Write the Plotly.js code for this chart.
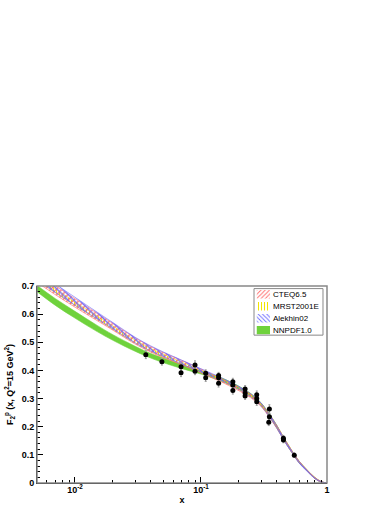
<!DOCTYPE html>
<html>
<head>
<meta charset="utf-8">
<script src="https://cdn.plot.ly/plotly-3.0.1.min.js"></script>
<style>
  html, body { margin: 0; padding: 0; background: #fff; }
  #plot { width: 392px; height: 508px; }
</style>
</head>
<body>
<div id="plot"></div>
<script>
// x grid shared by all PDF bands
const xGrid = [0.005, 0.007, 0.01, 0.015, 0.02, 0.03, 0.04, 0.05, 0.07, 0.1,
               0.15, 0.2, 0.25, 0.3, 0.35, 0.4, 0.45, 0.5, 0.55, 0.6, 0.7, 0.8, 0.9, 1.0];

// central values and half-widths
const cteqF2  = [0.730, 0.685, 0.640, 0.590, 0.555, 0.505, 0.475, 0.455, 0.428, 0.398,
                 0.362, 0.334, 0.308, 0.277, 0.238, 0.199, 0.160, 0.127, 0.099, 0.075, 0.043, 0.018, 0.004, 0.0];
const cteqErr = [0.017, 0.016, 0.015, 0.013, 0.012, 0.011, 0.010, 0.009, 0.008, 0.007,
                 0.006, 0.006, 0.006, 0.005, 0.005, 0.005, 0.004, 0.004, 0.003, 0.003, 0.002, 0.002, 0.001, 0.0];

const mrstF2  = [0.728, 0.683, 0.637, 0.588, 0.552, 0.503, 0.473, 0.453, 0.426, 0.397,
                 0.364, 0.337, 0.310, 0.279, 0.240, 0.200, 0.161, 0.128, 0.099, 0.075, 0.043, 0.018, 0.004, 0.0];
const mrstErr = [0.007, 0.007, 0.006, 0.006, 0.006, 0.005, 0.005, 0.005, 0.004, 0.004,
                 0.004, 0.004, 0.004, 0.004, 0.003, 0.003, 0.003, 0.003, 0.002, 0.002, 0.002, 0.001, 0.001, 0.0];

const alekF2  = [0.738, 0.692, 0.646, 0.595, 0.559, 0.508, 0.478, 0.458, 0.430, 0.400,
                 0.366, 0.338, 0.311, 0.279, 0.239, 0.199, 0.159, 0.126, 0.098, 0.074, 0.042, 0.017, 0.004, 0.0];
const alekErr = [0.016, 0.015, 0.014, 0.012, 0.011, 0.010, 0.009, 0.008, 0.007, 0.006,
                 0.005, 0.005, 0.005, 0.005, 0.004, 0.004, 0.004, 0.003, 0.003, 0.003, 0.002, 0.001, 0.001, 0.0];

const nnpdfF2  = [0.691, 0.643, 0.598, 0.549, 0.517, 0.477, 0.452, 0.436, 0.414, 0.393,
                  0.365, 0.338, 0.312, 0.280, 0.240, 0.200, 0.160, 0.127, 0.099, 0.075, 0.043, 0.018, 0.004, 0.0];
const nnpdfErr = [0.011, 0.012, 0.012, 0.011, 0.010, 0.009, 0.008, 0.008, 0.007, 0.006,
                  0.006, 0.006, 0.005, 0.005, 0.005, 0.005, 0.004, 0.004, 0.003, 0.003, 0.002, 0.002, 0.001, 0.0];

// data points
const dataX   = [0.0365, 0.049, 0.0695, 0.0695, 0.0897, 0.0897, 0.109, 0.109, 0.138, 0.138, 0.138,
                 0.179, 0.179, 0.179, 0.224, 0.224, 0.224, 0.277, 0.277, 0.277, 0.349, 0.349, 0.345,
                 0.451, 0.451, 0.55];
const dataF2  = [0.456, 0.431, 0.413, 0.392, 0.419, 0.397, 0.390, 0.374, 0.382, 0.374, 0.354,
                 0.360, 0.348, 0.329, 0.334, 0.320, 0.309, 0.314, 0.300, 0.289, 0.263, 0.235, 0.216,
                 0.159, 0.153, 0.099];
const dataErr = [0.014, 0.012, 0.012, 0.014, 0.015, 0.012, 0.012, 0.013, 0.011, 0.012, 0.013,
                 0.012, 0.011, 0.013, 0.012, 0.011, 0.012, 0.013, 0.012, 0.013, 0.015, 0.012, 0.012,
                 0.010, 0.010, 0.008];

const legendNames = ['CTEQ6.5', 'MRST2001E', 'Alekhin02', 'NNPDF1.0'];

const xTickVals = [0.01, 0.1, 1];
const xTickText = ['10<sup>-2</sup>', '10<sup>-1</sup>', '1'];
const xMinorVals = [0.006, 0.007, 0.008, 0.009, 0.02, 0.03, 0.04, 0.05, 0.06, 0.07, 0.08, 0.09,
                    0.2, 0.3, 0.4, 0.5, 0.6, 0.7, 0.8, 0.9];

const styles = {
    'CTEQ6.5':   { color: '#ff6a6a', fillcolor: 'rgba(0,0,0,0)',
                   fillpattern: { shape: '/', fgcolor: '#ff6a6a', bgcolor: 'rgba(0,0,0,0)', size: 4, solidity: 0.3 } },
    'MRST2001E': { color: '#f2e600', fillcolor: 'rgba(0,0,0,0)',
                   fillpattern: { shape: '|', fgcolor: '#f2e600', bgcolor: 'rgba(0,0,0,0)', size: 3, solidity: 0.35 } },
    'Alekhin02': { color: '#6a6aff', fillcolor: 'rgba(0,0,0,0)',
                   fillpattern: { shape: '\\', fgcolor: '#6a6aff', bgcolor: 'rgba(0,0,0,0)', size: 4, solidity: 0.3 } },
    'NNPDF1.0':  { color: '#6fd23c', fillcolor: '#6fd23c' }
};

function band(name, central, err) {
    const st = styles[name];
    const lo = central.map((v, i) => v - err[i]);
    const hi = central.map((v, i) => v + err[i]);
    const upper = {
        x: xGrid, y: hi, mode: 'lines', type: 'scatter', showlegend: false,
        line: { color: st.color, width: 0.6, shape: 'spline' },
        fill: 'tonexty', fillcolor: st.fillcolor
    };
    if (st.fillpattern) upper.fillpattern = st.fillpattern;
    return [{
        x: xGrid, y: lo, mode: 'lines', type: 'scatter', showlegend: false,
        line: { color: st.color, width: 0.6, shape: 'spline' }
    }, upper];
}

const traces = [].concat(
    band('NNPDF1.0', nnpdfF2, nnpdfErr),
    band('MRST2001E', mrstF2, mrstErr),
    band('CTEQ6.5', cteqF2, cteqErr),
    band('Alekhin02', alekF2, alekErr)
);

traces.push({
    x: dataX, y: dataF2, mode: 'markers', type: 'scatter', showlegend: false,
    marker: { color: '#000', size: 5 },
    error_y: { type: 'data', array: dataErr, color: '#999', thickness: 1, width: 1 }
});

// tick-only axis for the long decade ticks and labels
traces.push({ x: [0.01], y: [0], xaxis: 'x2', mode: 'markers', marker: { opacity: 0 },
              showlegend: false, hoverinfo: 'skip' });

// ROOT-style legend box: swatches drawn on a small helper subplot
const legendFont = { family: 'Liberation Sans, Arial, sans-serif', size: 8, color: '#000', weight: 'normal' };
const legendAnn = [];
legendNames.forEach((name, i) => {
    const st = styles[name];
    const yc = 0.878 - i * 0.257;
    const sw = {
        x: [0.04, 0.232, 0.232, 0.04, 0.04], y: [yc - 0.09, yc - 0.09, yc + 0.09, yc + 0.09, yc - 0.09],
        xaxis: 'x3', yaxis: 'y3', mode: 'lines', type: 'scatter', showlegend: false,
        line: { width: 0, color: st.color }, fill: 'toself', fillcolor: st.fillcolor, hoverinfo: 'skip'
    };
    if (st.fillpattern) sw.fillpattern = Object.assign({}, st.fillpattern, { size: 3 });
    traces.push(sw);
    legendAnn.push({
        xref: 'x3', yref: 'y3', x: 0.25, y: yc, xanchor: 'left', yanchor: 'middle',
        text: name, showarrow: false, font: legendFont
    });
});

const font = { family: 'Liberation Sans, Arial, sans-serif', size: 9, color: '#000', weight: 'bold' };

const layout = {
    width: 392, height: 508,
    margin: { l: 37, r: 65, t: 286, b: 25 },
    paper_bgcolor: '#fff', plot_bgcolor: '#fff',
    font: font,
    showlegend: false,
    xaxis: {
        type: 'log', range: [Math.log10(0.005), 0],
        tickmode: 'array', tickvals: xMinorVals, showticklabels: false,
        ticks: 'inside', ticklen: 3, tickcolor: '#000',
        showgrid: false, zeroline: false,
        showline: true, linecolor: '#000', linewidth: 1
    },
    xaxis2: {
        type: 'log', range: [Math.log10(0.005), 0], overlaying: 'x',
        tickmode: 'array', tickvals: xTickVals, ticktext: xTickText,
        ticks: 'inside', ticklen: 6, tickcolor: '#000',
        showgrid: false, zeroline: false, showline: false,
        tickfont: font,
        title: { text: 'x', font: font, standoff: 2 }
    },
    yaxis: {
        range: [0, 0.7], tickmode: 'linear', tick0: 0, dtick: 0.1,
        ticks: 'inside', ticklen: 6, tickcolor: '#000',
        minor: { dtick: 0.02, ticks: 'inside', ticklen: 3, tickcolor: '#000' },
        showgrid: false, zeroline: false,
        showline: true, linecolor: '#000', linewidth: 1,
        tickfont: font,
        title: { text: 'F<sub>2</sub><sup>p</sup> (x, Q<sup>2</sup>=15 GeV<sup>2</sup>)', font: font, standoff: 6 }
    },
    xaxis3: { domain: [0.7483, 0.9862], range: [0, 1], anchor: 'y3', visible: false, fixedrange: true },
    yaxis3: { domain: [0.7505, 0.9868], range: [0, 1], anchor: 'x3', visible: false, fixedrange: true },
    annotations: legendAnn,
    shapes: [{
        type: 'rect', xref: 'paper', yref: 'paper', x0: 0, x1: 1, y0: 0, y1: 1,
        line: { color: '#888', width: 1.5 }, layer: 'above'
    }, {
        type: 'rect', xref: 'paper', yref: 'paper', x0: 0.7483, x1: 0.9862, y0: 0.7505, y1: 0.9868,
        line: { color: '#888', width: 1 }, layer: 'above'
    }]
};

Plotly.newPlot('plot', traces, layout, { displayModeBar: false, staticPlot: true });
</script>
</body>
</html>
